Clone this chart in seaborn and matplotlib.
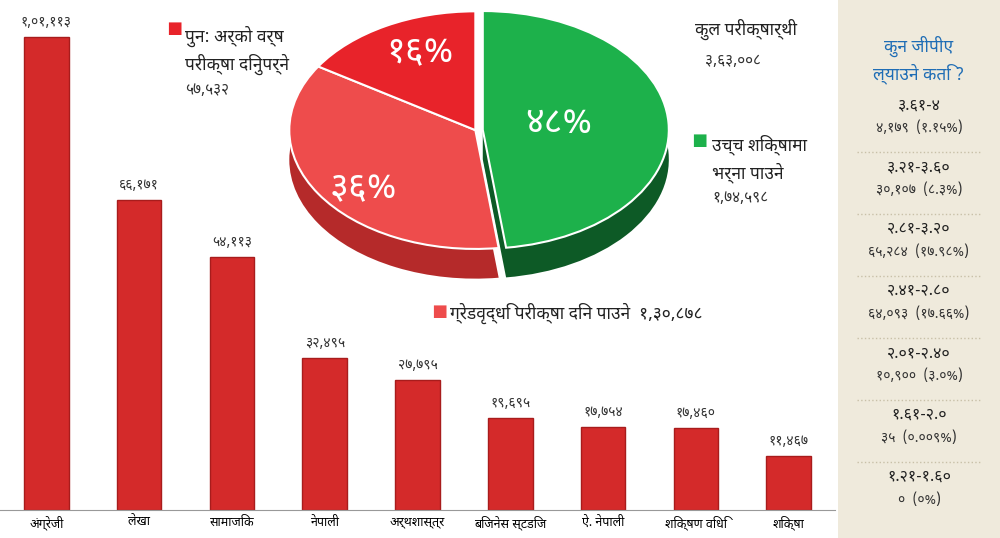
import matplotlib
matplotlib.use("Agg")
import matplotlib.pyplot as plt
import seaborn as sns
import pandas as pd
from matplotlib import font_manager

names = {f.name for f in font_manager.fontManager.ttflist}
fam = [n for n in ["Noto Sans Devanagari", "Lohit Devanagari", "Mukta", "FreeSans"] if n in names] + ["DejaVu Sans"]
plt.rcParams["font.family"] = fam

subjects = ["अंग्रेजी", "लेखा", "सामाजिक", "नेपाली", "अर्थशास्त्र", "बिजनेस स्टडिज", "ऐ. नेपाली", "शिक्षण विधि", "शिक्षा"]
failed = [101113, 66171, 54113, 32495, 27795, 19695, 17754, 17460, 11467]
failed_lbl = ["१,०१,११३", "६६,१७१", "५४,११३", "३२,४९५", "२७,७९५", "१९,६९५", "१७,७५४", "१७,४६०", "११,४६७"]

pie_share = [48, 36, 16]
pie_lbl = ["४८%", "३६%", "१६%"]
pie_cols = ["#1db14b", "#ee4c4c", "#e8232a"]

gpa_rng = ["३.६१-४", "३.२१-३.६०", "२.८१-३.२०", "२.४१-२.८०", "२.०१-२.४०", "१.६१-२.०", "१.२१-१.६०"]
gpa_cnt = ["४,१७९  (१.१५%)", "३०,१०७  (८.३%)", "६५,२८४  (१७.९८%)", "६४,०९३  (१७.६६%)",
           "१०,९००  (३.०%)", "३५  (०.००९%)", "०  (०%)"]

fig = plt.figure(figsize=(10, 5.38), dpi=100)
fig.patch.set_facecolor("white")

ax = fig.add_axes([0, 0.052, 0.835, 0.948])
df = pd.DataFrame({"s": subjects, "v": failed})
sns.barplot(data=df, x="s", y="v", color="#d42a2a", width=0.48, ax=ax, saturation=1,
            edgecolor="#a81c1c", linewidth=1)
ax.set_ylim(0, 109000)
ax.set_xlim(-0.5, 8.5)
for i, (v, t) in enumerate(zip(failed, failed_lbl)):
    ax.text(i, v + 1500, t, ha="center", va="bottom", fontsize=10, color="#333333")
for s in ["top", "right", "left"]:
    ax.spines[s].set_visible(False)
ax.spines["bottom"].set_color("#999999")
ax.set_yticks([])
ax.set_xlabel("")
ax.set_ylabel("")
ax.tick_params(axis="x", length=0, labelsize=9, pad=4)

# right panel
rp = fig.add_axes([0.838, 0, 0.162, 1])
rp.set_facecolor("#efeadc")
rp.set_xlim(0, 1)
rp.set_ylim(538, 0)
rp.set_xticks([]); rp.set_yticks([])
for s in rp.spines.values():
    s.set_visible(False)
rp.text(0.5, 60, "कुन जीपीए\nल्याउने कति ?", ha="center", va="center", fontsize=12.5,
        fontweight="bold", color="#1f6db5", linespacing=1.4)
for k, (r, c) in enumerate(zip(gpa_rng, gpa_cnt)):
    y0 = 105 + k * 62
    rp.text(0.5, y0, r, ha="center", va="center", fontsize=11.5, fontweight="bold", color="#222222")
    rp.text(0.5, y0 + 24, c, ha="center", va="center", fontsize=10, color="#333333")
    if k < 6:
        rp.plot([0.12, 0.88], [y0 + 47, y0 + 47], ls=":", color="#c8c0a8", lw=1)

# pie with depth
pa = fig.add_axes([0.28, 0.46, 0.40, 0.53])
dark = ["#0d5a26", "#b52a2a", "#9e1a1a"]
expl = [0.04, 0, 0]
pa.pie(pie_share, colors=dark, startangle=90, counterclock=False, center=(0, -0.25),
       explode=expl, wedgeprops=dict(linewidth=0))
pa.pie(pie_share, colors=pie_cols, startangle=90, counterclock=False, explode=expl,
       wedgeprops=dict(linewidth=1.5, edgecolor="white"))
pa.set_aspect("auto")
pa.set_xlim(-1.05, 1.1)
pa.set_ylim(-1.35, 1.05)
for txt, (x, y) in zip(pie_lbl, [(0.45, 0.05), (-0.6, -0.5), (-0.3, 0.65)]):
    pa.text(x, y, txt, ha="center", va="center", fontsize=26, color="white", fontweight="bold")

# annotations
fig.text(0.695, 0.935, "कुल परीक्षार्थी", fontsize=12.5, color="#222222")
fig.text(0.705, 0.88, "३,६३,००८", fontsize=11, color="#333333")
fig.text(0.692, 0.727, "■", fontsize=13, color="#1db14b")
fig.text(0.712, 0.668, "उच्च शिक्षामा\nभर्ना पाउने", fontsize=12.5, color="#222222", linespacing=1.5)
fig.text(0.712, 0.625, "१,७४,५९८", fontsize=11, color="#333333")
fig.text(0.167, 0.935, "■", fontsize=13, color="#e8232a")
fig.text(0.185, 0.87, "पुन: अर्को वर्ष\nपरीक्षा दिनुपर्ने", fontsize=12.5, color="#222222", linespacing=1.4)
fig.text(0.185, 0.825, "५७,५३२", fontsize=11, color="#333333")
fig.text(0.432, 0.408, "■", fontsize=13, color="#ee4c4c")
fig.text(0.45, 0.408, "ग्रेडवृद्धि परीक्षा दिन पाउने  १,३०,८७८", fontsize=12.5, color="#222222")

fig.savefig("out.png", dpi=100)
